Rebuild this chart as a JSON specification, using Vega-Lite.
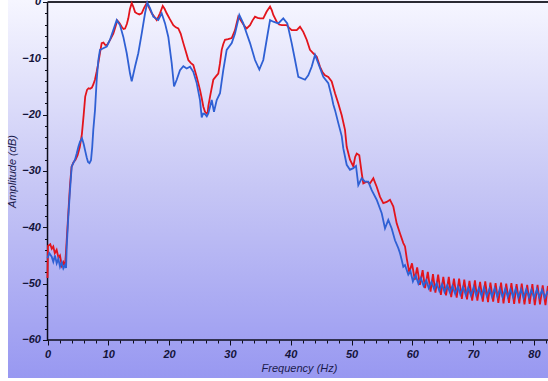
{
  "$schema": "https://vega.github.io/schema/vega-lite/v6.json",
  "width": 540,
  "height": 378,
  "autosize": {"type": "none"},
  "padding": {"left": 8, "top": 0, "right": 0, "bottom": 3},
  "background": "white",
  "config": {
    "view": {
      "stroke": null,
      "fill": {
        "gradient": "linear",
        "x1": 0, "y1": 0, "x2": 0, "y2": 1,
        "stops": [
          {"offset": 0, "color": "#f6f6ff"},
          {"offset": 0.5, "color": "#c6c6f5"},
          {"offset": 1, "color": "#9898f1"}
        ]
      }
    },
    "axis": {
      "domain": false,
      "grid": false,
      "tickColor": "#0d0d1a",
      "tickWidth": 1,
      "labelFont": "Liberation Sans",
      "labelFontSize": 11,
      "labelFontStyle": "italic",
      "labelFontWeight": "bold",
      "labelColor": "#14143a",
      "labelOverlap": false,
      "labelFlush": false,
      "titleFont": "Liberation Sans",
      "titleFontSize": 11,
      "titleFontStyle": "italic",
      "titleFontWeight": "normal",
      "titleColor": "#1a1a4c"
    }
  },
  "datasets": {
    "red": [
      {"f": 0.0, "db": -49.0}, {"f": 0.08, "db": -43.3}, {"f": 0.45, "db": -43.0}, {"f": 0.7, "db": -43.8},
      {"f": 0.95, "db": -43.4}, {"f": 1.2, "db": -44.6}, {"f": 1.5, "db": -44.0}, {"f": 1.8, "db": -45.4},
      {"f": 2.05, "db": -45.0}, {"f": 2.35, "db": -46.8}, {"f": 2.6, "db": -46.2}, {"f": 2.85, "db": -47.0},
      {"f": 3.0, "db": -45.0}, {"f": 3.2, "db": -41.5}, {"f": 3.45, "db": -37.0}, {"f": 3.7, "db": -32.5},
      {"f": 3.95, "db": -29.3}, {"f": 4.25, "db": -28.5}, {"f": 4.6, "db": -28.0}, {"f": 4.95, "db": -27.2},
      {"f": 5.3, "db": -25.8}, {"f": 5.65, "db": -23.5}, {"f": 5.95, "db": -20.0}, {"f": 6.2, "db": -16.8},
      {"f": 6.5, "db": -15.6}, {"f": 6.75, "db": -15.3}, {"f": 7.0, "db": -15.4}, {"f": 7.3, "db": -15.2},
      {"f": 7.55, "db": -14.6}, {"f": 7.8, "db": -13.8}, {"f": 8.1, "db": -12.3}, {"f": 8.35, "db": -10.9},
      {"f": 8.65, "db": -8.9}, {"f": 8.91, "db": -7.3}, {"f": 9.2, "db": -7.2}, {"f": 9.46, "db": -7.6},
      {"f": 9.75, "db": -7.7}, {"f": 10.0, "db": -7.3}, {"f": 10.4, "db": -6.5}, {"f": 10.82, "db": -5.6},
      {"f": 11.15, "db": -4.5}, {"f": 11.48, "db": -3.3}, {"f": 11.8, "db": -3.7}, {"f": 12.2, "db": -4.4},
      {"f": 12.5, "db": -4.8}, {"f": 12.75, "db": -4.7}, {"f": 13.05, "db": -3.9}, {"f": 13.29, "db": -2.9},
      {"f": 13.55, "db": -1.3}, {"f": 13.85, "db": -0.2}, {"f": 14.1, "db": -0.8}, {"f": 14.4, "db": -1.8},
      {"f": 14.67, "db": -2.0}, {"f": 15.1, "db": -2.2}, {"f": 15.49, "db": -2.0}, {"f": 15.9, "db": -1.0},
      {"f": 16.32, "db": -0.2}, {"f": 16.7, "db": -1.0}, {"f": 17.14, "db": -2.0}, {"f": 17.55, "db": -2.6},
      {"f": 17.96, "db": -3.2}, {"f": 18.25, "db": -2.6}, {"f": 18.5, "db": -2.0}, {"f": 18.95, "db": -0.7},
      {"f": 19.25, "db": -1.2}, {"f": 19.6, "db": -2.0}, {"f": 20.1, "db": -3.0}, {"f": 20.69, "db": -4.1},
      {"f": 21.1, "db": -4.5}, {"f": 21.51, "db": -4.7}, {"f": 21.9, "db": -5.6}, {"f": 22.34, "db": -7.3},
      {"f": 22.75, "db": -8.8}, {"f": 23.16, "db": -10.3}, {"f": 23.55, "db": -10.8}, {"f": 23.98, "db": -11.2},
      {"f": 24.25, "db": -12.2}, {"f": 24.54, "db": -13.3}, {"f": 24.8, "db": -14.4}, {"f": 25.08, "db": -15.6},
      {"f": 25.35, "db": -17.0}, {"f": 25.63, "db": -18.6}, {"f": 25.9, "db": -19.5}, {"f": 26.18, "db": -19.8},
      {"f": 26.35, "db": -19.6}, {"f": 26.45, "db": -18.5}, {"f": 26.8, "db": -16.4}, {"f": 27.27, "db": -13.8},
      {"f": 27.7, "db": -13.2}, {"f": 28.09, "db": -12.7}, {"f": 28.35, "db": -11.0}, {"f": 28.65, "db": -8.5},
      {"f": 28.9, "db": -7.5}, {"f": 29.19, "db": -6.7}, {"f": 29.7, "db": -6.6}, {"f": 30.3, "db": -6.4},
      {"f": 30.84, "db": -5.0}, {"f": 31.1, "db": -3.8}, {"f": 31.38, "db": -2.6}, {"f": 31.65, "db": -3.0},
      {"f": 31.94, "db": -3.5}, {"f": 32.35, "db": -4.2}, {"f": 32.76, "db": -4.7}, {"f": 33.31, "db": -4.1},
      {"f": 33.7, "db": -3.3}, {"f": 34.13, "db": -2.6}, {"f": 34.55, "db": -2.8}, {"f": 34.95, "db": -2.9},
      {"f": 35.49, "db": -2.9}, {"f": 36.05, "db": -1.7}, {"f": 36.6, "db": -0.8}, {"f": 36.9, "db": -1.5},
      {"f": 37.14, "db": -2.3}, {"f": 37.7, "db": -3.5}, {"f": 38.1, "db": -4.0}, {"f": 38.52, "db": -4.1},
      {"f": 39.34, "db": -4.1}, {"f": 39.75, "db": -4.6}, {"f": 40.16, "db": -5.0}, {"f": 40.99, "db": -5.0},
      {"f": 41.53, "db": -4.4}, {"f": 42.07, "db": -5.3}, {"f": 42.63, "db": -6.7}, {"f": 43.17, "db": -8.5},
      {"f": 43.72, "db": -9.1}, {"f": 44.28, "db": -9.7}, {"f": 44.82, "db": -11.5}, {"f": 45.25, "db": -12.5},
      {"f": 45.64, "db": -13.0}, {"f": 46.18, "db": -13.3}, {"f": 46.74, "db": -14.1}, {"f": 47.29, "db": -16.2},
      {"f": 47.83, "db": -18.0}, {"f": 48.39, "db": -20.1}, {"f": 48.93, "db": -22.7}, {"f": 49.21, "db": -25.7},
      {"f": 49.75, "db": -28.0}, {"f": 50.3, "db": -29.2}, {"f": 50.6, "db": -27.5}, {"f": 50.86, "db": -26.9},
      {"f": 51.28, "db": -27.2}, {"f": 51.68, "db": -30.4}, {"f": 51.94, "db": -32.2}, {"f": 52.5, "db": -31.9},
      {"f": 53.04, "db": -32.2}, {"f": 53.59, "db": -31.3}, {"f": 54.14, "db": -32.8}, {"f": 54.69, "db": -34.6},
      {"f": 55.23, "db": -35.7}, {"f": 55.79, "db": -35.5}, {"f": 56.33, "db": -35.1}, {"f": 56.88, "db": -36.3},
      {"f": 57.43, "db": -39.3}, {"f": 57.98, "db": -41.1}, {"f": 58.52, "db": -42.8}, {"f": 58.8, "db": -43.4},
      {"f": 59.1, "db": -45.6}, {"f": 59.5, "db": -48.0}, {"f": 59.95, "db": -46.4}, {"f": 60.4, "db": -49.3},
      {"f": 60.8, "db": -47.1}, {"f": 61.25, "db": -50.2}, {"f": 61.7, "db": -47.6}, {"f": 62.1, "db": -50.8},
      {"f": 62.55, "db": -47.9}, {"f": 63.0, "db": -51.4}, {"f": 63.4, "db": -48.3}, {"f": 63.8, "db": -51.6},
      {"f": 64.25, "db": -48.4}, {"f": 64.7, "db": -52.0}, {"f": 65.1, "db": -48.8}, {"f": 65.55, "db": -52.1},
      {"f": 66.0, "db": -48.8}, {"f": 66.4, "db": -52.4}, {"f": 66.85, "db": -49.1}, {"f": 67.3, "db": -52.5},
      {"f": 67.7, "db": -49.1}, {"f": 68.15, "db": -52.7}, {"f": 68.55, "db": -49.3}, {"f": 69.0, "db": -52.8},
      {"f": 69.4, "db": -49.5}, {"f": 69.85, "db": -53.0}, {"f": 70.3, "db": -49.4}, {"f": 70.7, "db": -53.0},
      {"f": 71.15, "db": -49.7}, {"f": 71.6, "db": -53.2}, {"f": 72.0, "db": -49.6}, {"f": 72.45, "db": -53.3},
      {"f": 72.85, "db": -49.8}, {"f": 73.3, "db": -53.2}, {"f": 73.7, "db": -49.9}, {"f": 74.15, "db": -53.4},
      {"f": 74.6, "db": -49.8}, {"f": 75.0, "db": -53.5}, {"f": 75.45, "db": -50.0}, {"f": 75.9, "db": -53.4},
      {"f": 76.3, "db": -49.9}, {"f": 76.75, "db": -53.6}, {"f": 77.15, "db": -50.1}, {"f": 77.6, "db": -53.5},
      {"f": 78.0, "db": -50.0}, {"f": 78.45, "db": -53.7}, {"f": 78.9, "db": -50.2}, {"f": 79.3, "db": -53.6},
      {"f": 79.75, "db": -50.1}, {"f": 80.15, "db": -53.8}, {"f": 80.6, "db": -50.2}, {"f": 81.0, "db": -53.7},
      {"f": 81.45, "db": -50.3}, {"f": 81.9, "db": -53.8}, {"f": 82.3, "db": -50.4}
    ],
    "blue": [
      {"f": 0.0, "db": -45.5}, {"f": 0.3, "db": -44.6}, {"f": 0.69, "db": -45.2}, {"f": 0.95, "db": -46.1},
      {"f": 1.23, "db": -45.0}, {"f": 1.51, "db": -46.4}, {"f": 1.78, "db": -45.6}, {"f": 2.06, "db": -47.0},
      {"f": 2.34, "db": -46.2}, {"f": 2.6, "db": -47.3}, {"f": 2.88, "db": -46.7}, {"f": 3.05, "db": -47.2},
      {"f": 3.16, "db": -43.4}, {"f": 3.42, "db": -38.1}, {"f": 3.7, "db": -33.4}, {"f": 3.98, "db": -29.2},
      {"f": 4.24, "db": -28.6}, {"f": 4.52, "db": -28.0}, {"f": 4.8, "db": -26.9}, {"f": 5.1, "db": -25.6},
      {"f": 5.35, "db": -24.8}, {"f": 5.67, "db": -24.2}, {"f": 5.95, "db": -25.2}, {"f": 6.17, "db": -26.3},
      {"f": 6.45, "db": -27.6}, {"f": 6.66, "db": -28.4}, {"f": 6.9, "db": -28.6}, {"f": 7.15, "db": -28.1},
      {"f": 7.35, "db": -25.8}, {"f": 7.53, "db": -22.7}, {"f": 7.81, "db": -19.2}, {"f": 8.09, "db": -13.8},
      {"f": 8.36, "db": -10.3}, {"f": 8.63, "db": -8.5}, {"f": 9.18, "db": -8.2}, {"f": 9.74, "db": -7.9},
      {"f": 10.28, "db": -6.7}, {"f": 10.82, "db": -5.0}, {"f": 11.38, "db": -3.2}, {"f": 11.92, "db": -4.1},
      {"f": 12.47, "db": -6.2}, {"f": 13.03, "db": -9.1}, {"f": 13.57, "db": -12.7}, {"f": 13.85, "db": -14.1},
      {"f": 14.39, "db": -11.5}, {"f": 14.93, "db": -9.1}, {"f": 15.49, "db": -5.6}, {"f": 16.04, "db": -2.0},
      {"f": 16.41, "db": -0.1}, {"f": 16.86, "db": -1.1}, {"f": 17.4, "db": -2.6}, {"f": 18.22, "db": -3.2},
      {"f": 18.78, "db": -2.0}, {"f": 19.33, "db": -3.8}, {"f": 19.87, "db": -6.2}, {"f": 20.43, "db": -10.9},
      {"f": 20.81, "db": -15.0}, {"f": 21.25, "db": -13.8}, {"f": 21.79, "db": -12.1}, {"f": 22.34, "db": -11.4},
      {"f": 22.89, "db": -11.8}, {"f": 23.44, "db": -11.5}, {"f": 23.98, "db": -12.4}, {"f": 24.54, "db": -14.4},
      {"f": 25.08, "db": -17.4}, {"f": 25.36, "db": -20.5}, {"f": 25.6, "db": -19.8}, {"f": 25.9, "db": -19.9},
      {"f": 26.2, "db": -20.3}, {"f": 26.45, "db": -19.8}, {"f": 27.01, "db": -17.4}, {"f": 27.38, "db": -19.5},
      {"f": 27.83, "db": -17.4}, {"f": 28.37, "db": -16.2}, {"f": 28.91, "db": -12.1}, {"f": 29.47, "db": -8.5},
      {"f": 30.3, "db": -7.3}, {"f": 30.84, "db": -5.6}, {"f": 31.55, "db": -2.3}, {"f": 32.2, "db": -3.8},
      {"f": 32.76, "db": -5.6}, {"f": 33.31, "db": -7.3}, {"f": 34.13, "db": -10.3}, {"f": 34.84, "db": -12.0},
      {"f": 35.49, "db": -10.3}, {"f": 36.05, "db": -6.7}, {"f": 36.6, "db": -3.2}, {"f": 37.14, "db": -3.5},
      {"f": 37.96, "db": -3.8}, {"f": 38.78, "db": -2.9}, {"f": 39.44, "db": -3.8}, {"f": 40.16, "db": -7.3},
      {"f": 40.71, "db": -10.3}, {"f": 41.25, "db": -13.3}, {"f": 42.35, "db": -13.8}, {"f": 42.89, "db": -13.0},
      {"f": 43.45, "db": -11.5}, {"f": 44.0, "db": -9.4}, {"f": 44.54, "db": -10.9}, {"f": 45.36, "db": -13.3},
      {"f": 46.18, "db": -14.4}, {"f": 46.74, "db": -16.8}, {"f": 47.01, "db": -18.2}, {"f": 47.29, "db": -19.2},
      {"f": 47.83, "db": -21.5}, {"f": 48.39, "db": -23.8}, {"f": 48.65, "db": -26.0}, {"f": 49.21, "db": -28.9},
      {"f": 49.75, "db": -29.8}, {"f": 50.3, "db": -29.5}, {"f": 50.74, "db": -29.1}, {"f": 51.12, "db": -32.5},
      {"f": 51.68, "db": -31.3}, {"f": 52.22, "db": -31.9}, {"f": 52.76, "db": -31.9}, {"f": 53.32, "db": -33.4},
      {"f": 54.14, "db": -35.1}, {"f": 54.97, "db": -37.5}, {"f": 55.51, "db": -40.2}, {"f": 56.05, "db": -38.7},
      {"f": 56.61, "db": -40.2}, {"f": 57.15, "db": -42.3}, {"f": 57.7, "db": -43.7}, {"f": 57.98, "db": -44.6},
      {"f": 58.26, "db": -45.8}, {"f": 58.52, "db": -47.0}, {"f": 58.8, "db": -46.7}, {"f": 59.34, "db": -48.4},
      {"f": 59.7, "db": -47.8}, {"f": 60.1, "db": -49.6}, {"f": 60.55, "db": -48.5}, {"f": 61.0, "db": -50.0},
      {"f": 61.4, "db": -49.0}, {"f": 61.85, "db": -50.4}, {"f": 62.3, "db": -49.4}, {"f": 62.7, "db": -50.8},
      {"f": 63.15, "db": -49.7}, {"f": 63.6, "db": -51.0}, {"f": 64.0, "db": -49.9}, {"f": 64.45, "db": -51.3},
      {"f": 64.9, "db": -50.1}, {"f": 65.3, "db": -51.5}, {"f": 65.75, "db": -50.3}, {"f": 66.2, "db": -51.6},
      {"f": 66.6, "db": -50.4}, {"f": 67.05, "db": -51.8}, {"f": 67.5, "db": -50.5}, {"f": 67.9, "db": -51.9},
      {"f": 68.35, "db": -50.6}, {"f": 68.8, "db": -52.0}, {"f": 69.2, "db": -50.7}, {"f": 69.65, "db": -52.1},
      {"f": 70.1, "db": -50.6}, {"f": 70.5, "db": -52.1}, {"f": 70.95, "db": -50.8}, {"f": 71.4, "db": -52.2},
      {"f": 71.8, "db": -50.7}, {"f": 72.25, "db": -52.2}, {"f": 72.7, "db": -50.9}, {"f": 73.1, "db": -52.3},
      {"f": 73.55, "db": -50.8}, {"f": 74.0, "db": -52.3}, {"f": 74.4, "db": -50.9}, {"f": 74.85, "db": -52.4},
      {"f": 75.3, "db": -50.9}, {"f": 75.7, "db": -52.3}, {"f": 76.15, "db": -51.0}, {"f": 76.6, "db": -52.4},
      {"f": 77.0, "db": -50.9}, {"f": 77.45, "db": -52.4}, {"f": 77.9, "db": -51.0}, {"f": 78.3, "db": -52.5},
      {"f": 78.75, "db": -51.0}, {"f": 79.2, "db": -52.4}, {"f": 79.6, "db": -51.1}, {"f": 80.05, "db": -52.5},
      {"f": 80.5, "db": -51.0}, {"f": 80.9, "db": -52.4}, {"f": 81.35, "db": -51.1}, {"f": 81.8, "db": -52.5},
      {"f": 82.3, "db": -51.3}
    ]
  },
  "layer": [
    {
      "data": {"values": [{}]},
      "mark": {"type": "rule", "color": "#0d0d1a", "strokeWidth": 1.5},
      "encoding": {
        "x": {"datum": 0, "type": "quantitative", "scale": {"domain": [-6.5, 82.32], "nice": false, "zero": false}, "axis": null},
        "y": {"datum": -60, "type": "quantitative", "scale": {"domain": [-66.75, 0.355], "nice": false, "zero": false}, "axis": null},
        "y2": {"datum": 0}
      }
    },
    {
      "data": {"values": [{}]},
      "mark": {"type": "rule", "color": "#0d0d1a", "strokeWidth": 1.5},
      "encoding": {
        "x": {"datum": 0, "type": "quantitative", "scale": {"domain": [-6.5, 82.32], "nice": false, "zero": false}, "axis": null},
        "x2": {"datum": 82.32},
        "y": {"datum": -60, "type": "quantitative", "scale": {"domain": [-66.75, 0.355], "nice": false, "zero": false}, "axis": null}
      }
    },
    {
      "data": {"values": [{}]},
      "mark": {"type": "rule", "color": "#2a2a33", "strokeWidth": 2},
      "encoding": {
        "x": {"datum": 0, "type": "quantitative", "scale": {"domain": [-6.5, 82.32], "nice": false, "zero": false}, "axis": null},
        "x2": {"datum": 82.32},
        "y": {"datum": 0, "type": "quantitative", "scale": {"domain": [-66.75, 0.355], "nice": false, "zero": false}, "axis": null}
      }
    },
    {
      "data": {"name": "red"},
      "mark": {"type": "line", "color": "#e3141c", "strokeWidth": 1.8},
      "encoding": {
        "x": {
          "field": "f", "type": "quantitative",
          "scale": {"domain": [-6.5, 82.32], "nice": false, "zero": false},
          "axis": {
            "orient": "bottom", "offset": -38, "title": "Frequency (Hz)",
            "values": [0, 10, 20, 30, 40, 50, 60, 70, 80],
            "tickSize": 5, "labelPadding": 3, "titlePadding": 3, "titleX": 291
          }
        },
        "y": {
          "field": "db", "type": "quantitative",
          "scale": {"domain": [-66.75, 0.355], "nice": false, "zero": false},
          "axis": {
            "orient": "left", "offset": -39.5, "title": "Amplitude (dB)",
            "values": [-60, -50, -40, -30, -20, -10, 0],
            "tickSize": 5, "labelPadding": 2, "titlePadding": 4, "titleY": 171
          }
        }
      }
    },
    {
      "data": {"name": "blue"},
      "mark": {"type": "line", "color": "#2f60d4", "strokeWidth": 1.8},
      "encoding": {
        "x": {
          "field": "f", "type": "quantitative",
          "scale": {"domain": [-6.5, 82.32], "nice": false, "zero": false},
          "axis": {
            "orient": "bottom", "offset": -38, "title": null, "labels": false,
            "values": [2, 4, 6, 8, 12, 14, 16, 18, 22, 24, 26, 28, 32, 34, 36, 38, 42, 44, 46, 48, 52, 54, 56, 58, 62, 64, 66, 68, 72, 74, 76, 78, 82],
            "tickSize": 3
          }
        },
        "y": {
          "field": "db", "type": "quantitative",
          "scale": {"domain": [-66.75, 0.355], "nice": false, "zero": false},
          "axis": {
            "orient": "left", "offset": -39.5, "title": null, "labels": false,
            "values": [-58, -56, -54, -52, -48, -46, -44, -42, -38, -36, -34, -32, -28, -26, -24, -22, -18, -16, -14, -12, -8, -6, -4, -2],
            "tickSize": 3
          }
        }
      }
    }
  ],
  "resolve": {"axis": {"x": "independent", "y": "independent"}}
}
